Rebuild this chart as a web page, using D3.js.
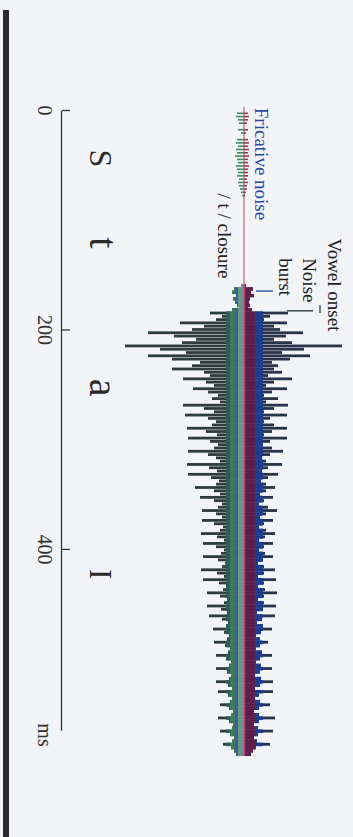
<!DOCTYPE html>
<html><head><meta charset="utf-8">
<script src="https://cdn.jsdelivr.net/npm/d3@7"></script>
<style>html,body{margin:0;padding:0;background:#f2f4f8;} svg{display:block;}</style>
</head><body><svg id="c" width="353" height="837"></svg>
<script>
// ---------- data (time in ms, amplitude in arbitrary units) ----------
const tickValues = [0, 200, 400];
const axisEndMs = 565;
const axisUnit = "ms";
const phonemes = ["S", "t", "a", "I"];
const phonemeMs = [44, 121, 253, 423];
const annotationTexts = ["Vowel onset", "Noise", "burst", "Fricative noise", "/ t / closure"];
const annotationMs = [117, 135, 135, -2, 76];
const markerMs = [165, 183];           // burst, vowel onset
const stepMs = 3;

const fricStartMs = 3;
const fricNeg = [7,8,6,5,0,6,3,0,7,8,6,8,7,9,7,6,8,7,6,7,5,6,5,4,3,2];
const fricPos = [4,5,4,3,0,4,2,0,4,5,4,5,4,5,4,4,5,4,4,4,3,4,3,3,2,1];

const burstStartMs = 160;
const burstNeg = [3,10,12,8,11,9,7,5];
const burstPos = [2,9,7,10,6,5,6,4];

const vowelStartMs = 182;
const vowelNeg = [
 12,34,22,28,64,40,52,96,70,48,
 62,119,84,58,96,72,44,52,72,40,
 34,61,38,30,51,36,26,32,24,61,
 40,30,59,36,28,32,57,38,27,56,
 34,26,30,56,36,28,24,57,35,27,
 56,33,25,28,49,30,24,44,30,22,
 26,42,28,22,42,30,21,24,43,27,
 20,41,28,20,23,41,26,19,22,43,
 27,20,41,25,18,21,37,24,17,20,
 37,23,17,35,22,16,18,31,20,15,
 17,30,19,14,16,28,18,13,15,28,
 17,13,15,28,16,12,26,16,12,14,
 24,15,11,13,26,15,11,12,24,14,
 10,12,21,13,10,8];
const vowelPos = [
 8,44,26,20,43,30,36,59,42,30,
 48,98,60,38,66,46,28,34,30,38,
 24,48,30,22,43,28,20,34,22,44,
 30,20,43,26,20,30,43,28,20,43,
 26,19,28,39,26,18,22,38,24,18,
 34,24,17,22,31,22,16,29,20,15,
 24,33,22,16,29,20,15,22,31,21,
 15,29,20,15,21,29,19,14,20,31,
 20,14,32,20,14,21,33,20,14,20,
 32,19,13,31,18,13,19,28,17,12,
 16,24,16,12,18,28,16,12,17,28,
 16,11,17,29,16,11,29,15,11,16,
 26,15,10,15,31,15,10,14,29,14,
 10,13,26,12,9,7];

// ---------- layout ----------
const W = 353, H = 837;
const svg = d3.select("#c");
svg.append("rect").attr("x", 0).attr("y", 0).attr("width", W).attr("height", H).attr("fill", "#f2f4f8");
svg.append("rect").attr("x", 3).attr("y", 10).attr("width", 6).attr("height", H - 10).attr("fill", "#2b2b2f");

// landscape group, rotated 90deg clockwise
const g = svg.append("g").attr("transform", `translate(${W},0) rotate(90)`);
const t = d3.scaleLinear().domain([0, axisEndMs]).range([110, 730]);
const a = d3.scaleLinear().domain([-125, 125]).range([234, -16]);
const serif = "'Liberation Serif', 'Times New Roman', serif";

const toSamples = (start, neg, pos) => neg.map((n, i) => ({ms: start + i * stepMs, neg: n, pos: pos[i]}));
const fric = toSamples(fricStartMs, fricNeg, fricPos);
const voiced = toSamples(burstStartMs, burstNeg, burstPos).concat(toSamples(vowelStartMs, vowelNeg, vowelPos));
const sw = t(stepMs) - t(0);
const bh = 2.8;

// center line
g.append("line").attr("x1", t(-3)).attr("x2", t(vowelStartMs)).attr("y1", a(0)).attr("y2", a(0))
  .attr("stroke", "#b04a55").attr("stroke-width", 1);

// fricative noise
const fg = g.append("g");
fg.selectAll("rect.fn").data(fric.filter(d => d.neg > 0)).join("rect")
  .attr("x", d => t(d.ms) - 0.8).attr("width", 1.6)
  .attr("y", a(0)).attr("height", d => a(-d.neg) - a(0)).attr("fill", "#3d8a5e");
fg.selectAll("rect.fp").data(fric.filter(d => d.pos > 0)).join("rect")
  .attr("x", d => t(d.ms) - 0.8).attr("width", 1.6)
  .attr("y", d => a(d.pos)).attr("height", d => a(0) - a(d.pos)).attr("fill", "#9a3a55");

// voiced waveform: outer dark bars
const wg = g.append("g");
wg.selectAll("rect.on").data(voiced).join("rect")
  .attr("x", d => t(d.ms) - bh / 2).attr("width", bh)
  .attr("y", a(0)).attr("height", d => a(-d.neg) - a(0)).attr("fill", "#2f3d3a");
wg.selectAll("rect.op").data(voiced).join("rect")
  .attr("x", d => t(d.ms) - bh / 2).attr("width", bh)
  .attr("y", d => a(d.pos)).attr("height", d => a(0) - a(d.pos)).attr("fill", "#29334a");

// colored core stripes (print misregistration look)
const stripes = [
  [-18, -14, "#2f5a5a"], [-14, -9, "#3b7a5c"], [-9, -6, "#4656a0"], [-6, -2, "#5d9e78"],
  [-2, 0, "#7f7fb0"], [0, 1.5, "#b03a55"], [1.5, 11, "#5b1f4c"], [11, 19, "#1d3c8e"]
];
stripes.forEach(([lo, hi, col]) => {
  wg.append("g").selectAll("rect").data(voiced.filter(d => Math.max(lo, -d.neg) < Math.min(hi, d.pos))).join("rect")
    .attr("x", d => t(d.ms) - sw / 2).attr("width", sw + 0.3)
    .attr("y", d => a(Math.min(hi, d.pos)))
    .attr("height", d => a(Math.max(lo, -d.neg)) - a(Math.min(hi, d.pos)))
    .attr("fill", col);
});

// markers
g.append("line").attr("x1", t(markerMs[0])).attr("x2", t(markerMs[0])).attr("y1", a(12)).attr("y2", a(29))
  .attr("stroke", "#3050a0").attr("stroke-width", 1.4);
g.append("line").attr("x1", t(markerMs[1])).attr("x2", t(markerMs[1])).attr("y1", a(43)).attr("y2", a(69))
  .attr("stroke", "#2a3a3a").attr("stroke-width", 1.4);
g.append("line").attr("x1", t(178)).attr("x2", t(185)).attr("y1", a(76)).attr("y2", a(76))
  .attr("stroke", "#2a3a3a").attr("stroke-width", 1.3);

// annotations
const annBaseY = [25, 50, 74, 98, 135];
const annColor = ["#222", "#222", "#222", "#2a4aa0", "#222"];
g.selectAll("text.ann").data(annotationTexts).join("text")
  .attr("x", (d, i) => t(annotationMs[i])).attr("y", (d, i) => annBaseY[i])
  .attr("font-family", serif).attr("font-size", 19).attr("fill", (d, i) => annColor[i])
  .text(d => d);

// phoneme labels
const phSize = [32, 40, 40, 31];
g.selectAll("text.ph").data(phonemes).join("text")
  .attr("x", (d, i) => t(phonemeMs[i])).attr("y", 263).attr("text-anchor", "middle")
  .attr("font-family", serif).attr("font-size", (d, i) => phSize[i]).attr("fill", "#2a2a2a")
  .text(d => d);

// time axis
const axis = d3.axisBottom(t).tickValues(tickValues).tickSizeInner(-8).tickSizeOuter(0).tickPadding(10).tickFormat(d3.format("d"));
const ax = g.append("g").attr("transform", "translate(0,291)").call(axis);
ax.selectAll("path,line").attr("stroke", "#333").attr("stroke-width", 1.3);
ax.selectAll("text").attr("font-family", serif).attr("font-size", 20).attr("fill", "#333");
g.append("text").attr("x", 735).attr("y", 315).attr("text-anchor", "middle")
  .attr("font-family", serif).attr("font-size", 20).attr("fill", "#333").text(axisUnit);
</script>
</body></html>
